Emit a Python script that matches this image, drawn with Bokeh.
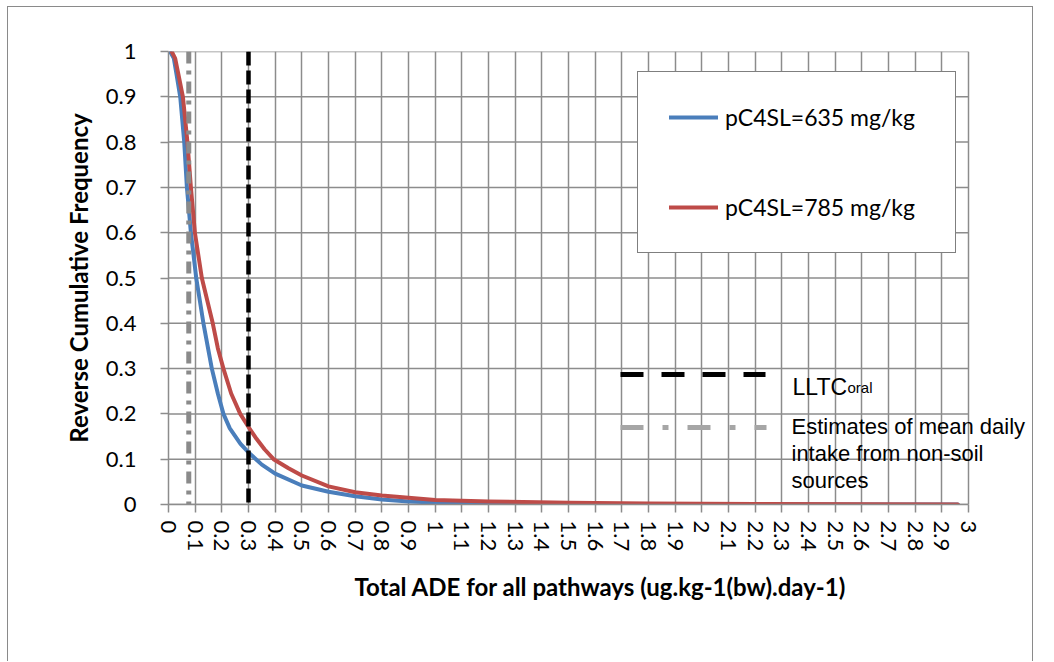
from bokeh.plotting import figure
from bokeh.models import Range1d, FixedTicker, Span, Legend, LegendItem, Label
from bokeh.embed import file_html
from bokeh.resources import INLINE

# ---------------- data ----------------
blue_x = [0.006, 0.02, 0.03, 0.044, 0.059, 0.069, 0.084, 0.104, 0.131, 0.1625, 0.185, 0.206,
          0.23, 0.27, 0.30, 0.35, 0.40, 0.50, 0.60, 0.70, 0.80, 0.90, 1.0, 1.2, 1.5, 1.8,
          2.2, 2.6, 2.96]
blue_y = [1.0, 0.985, 0.95, 0.90, 0.80, 0.70, 0.60, 0.50, 0.40, 0.30, 0.245, 0.20,
          0.168, 0.134, 0.115, 0.088, 0.068, 0.042, 0.028, 0.018, 0.011, 0.0066, 0.0044,
          0.002, 0.0012, 0.0007, 0.0003, 0.0001, 0.0]
red_x = [0.012, 0.025, 0.037, 0.054, 0.071, 0.084, 0.099, 0.125, 0.166, 0.185, 0.206, 0.235,
         0.269, 0.30, 0.33, 0.36, 0.394, 0.45, 0.50, 0.60, 0.70, 0.80, 0.90, 1.0, 1.2, 1.5,
         1.8, 2.2, 2.6, 2.96]
red_y = [1.0, 0.985, 0.95, 0.90, 0.80, 0.70, 0.60, 0.50, 0.40, 0.345, 0.30, 0.245,
         0.20, 0.171, 0.145, 0.122, 0.10, 0.08, 0.064, 0.04, 0.027, 0.020, 0.015, 0.010,
         0.0066, 0.0037, 0.002, 0.001, 0.0005, 0.0002]
series_labels = ["pC4SL=635 mg/kg", "pC4SL=785 mg/kg"]

lltc_x = 0.3          # LLTC oral
intake_x = 0.076      # mean daily intake from non-soil sources

x_ticks = [0.0, 0.1, 0.2, 0.3, 0.4, 0.5, 0.6, 0.7, 0.8, 0.9, 1.0, 1.1, 1.2, 1.3, 1.4, 1.5,
           1.6, 1.7, 1.8, 1.9, 2.0, 2.1, 2.2, 2.3, 2.4, 2.5, 2.6, 2.7, 2.8, 2.9, 3.0]
x_tick_labels = ["0", "0.1", "0.2", "0.3", "0.4", "0.5", "0.6", "0.7", "0.8", "0.9", "1",
                 "1.1", "1.2", "1.3", "1.4", "1.5", "1.6", "1.7", "1.8", "1.9", "2",
                 "2.1", "2.2", "2.3", "2.4", "2.5", "2.6", "2.7", "2.8", "2.9", "3"]
y_ticks = [0.0, 0.1, 0.2, 0.3, 0.4, 0.5, 0.6, 0.7, 0.8, 0.9, 1.0]
y_tick_labels = ["0", "0.1", "0.2", "0.3", "0.4", "0.5", "0.6", "0.7", "0.8", "0.9", "1"]

x_title = "Total ADE for all pathways (ug.kg-1(bw).day-1)"
y_title = "Reverse Cumulative Frequency"

# ---------------- layout ----------------
X0, X1, Y0, Y1 = 0.0, 3.0, 0.0, 1.0      # plotted axis extent
OX, OY = 8, 7                            # page position of the figure content
FL, FT, FH = 160, 44, 453                # frame offsets / height
PLOT_W = 800                             # pixels spanned by the axis 0..3
FW = 864                                 # frame extends to the chart border
XEND = X0 + FW / PLOT_W * (X1 - X0)


def px(xp):   # page pixel -> data x
    return X0 + (xp - OX - FL) / PLOT_W * (X1 - X0)


def py(yp):   # page pixel -> data y
    return Y0 + (OY + FT + FH - yp) / FH * (Y1 - Y0)


GRID = "#8c8c8c"
BLUE = "#4a7ebb"
RED = "#be4b48"

p = figure(frame_width=FW, frame_height=FH,
           min_border_left=FL, min_border_top=FT, min_border_right=0, min_border_bottom=157,
           x_range=Range1d(X0, XEND), y_range=Range1d(Y0, Y1),
           output_backend="svg", toolbar_location=None,
           background_fill_color="white", border_fill_color="white")
p.margin = (OY - 1, 0, 0, OX - 1)
p.styles = {"border-left": "1px solid #8a8a8a", "border-top": "1px solid #8a8a8a",
            "border-right": "1px solid #8a8a8a"}
p.outline_line_color = None

for ax, ticks, labels in ((p.xaxis[0], x_ticks, x_tick_labels), (p.yaxis[0], y_ticks, y_tick_labels)):
    ax.ticker = FixedTicker(ticks=ticks)
    ax.major_label_overrides = dict(zip(ticks, labels))
    ax.minor_tick_line_color = None
    ax.axis_line_color = GRID
    ax.axis_line_width = 1.5
    ax.major_tick_line_color = GRID
    ax.major_tick_line_width = 1.5
    ax.major_tick_in = 0
    ax.major_label_text_font = "Lato"
    ax.major_label_text_font_size = "22px"
    ax.major_label_text_color = "black"
    ax.axis_label_text_font = "Lato"
    ax.axis_label_text_font_style = "bold"
    ax.axis_label_text_font_size = "24px"
    ax.axis_label_text_color = "black"

p.xaxis.bounds = (X0, X1)
p.xaxis.major_tick_out = 8
p.xaxis.major_label_orientation = "vertical"
p.xaxis.major_label_standoff = 8
p.xaxis.axis_label = x_title
p.xaxis.axis_label_standoff = 18

p.yaxis.major_tick_out = 8
p.yaxis.major_label_standoff = 24
p.yaxis.axis_label = y_title
p.yaxis.axis_label_standoff = 10

# vertical grid at each x tick; horizontal grid drawn only across 0..3
p.xgrid.ticker = FixedTicker(ticks=x_ticks)
p.xgrid.grid_line_color = GRID
p.xgrid.grid_line_width = 1.5
p.ygrid.grid_line_color = None
p.segment(x0=[X0] * len(y_ticks), x1=[X1] * len(y_ticks), y0=y_ticks, y1=y_ticks,
          line_color=GRID, line_width=1.5, level="underlay")

r_blue = p.line(blue_x, blue_y, line_color=BLUE, line_width=4, line_join="round", line_cap="round")
r_red = p.line(red_x, red_y, line_color=RED, line_width=4, line_join="round", line_cap="round")

p.add_layout(Span(location=intake_x, dimension="height", line_color="#8a8a8a",
                  line_width=5, line_dash="12 7 4 7"))
p.add_layout(Span(location=lltc_x, dimension="height", line_color="black",
                  line_width=4.5, line_dash="14 5"))

legend = Legend(items=[LegendItem(label=series_labels[0], renderers=[r_blue]),
                       LegendItem(label=series_labels[1], renderers=[r_red])],
                location=(469, 251), padding=31, spacing=62,
                glyph_width=49, glyph_height=22, label_height=22, label_standoff=7,
                label_width=199,
                label_text_font="Lato", label_text_font_size="23px", label_text_color="black",
                border_line_color="black", border_line_width=1.5,
                background_fill_color="white", background_fill_alpha=1.0)
p.add_layout(legend)

# ---- manual key for the vertical reference lines ----
p.line([px(620), px(765)], [py(374), py(374)], line_color="black", line_width=5,
       line_dash="23 18")
p.line([px(620), px(766)], [py(427), py(427)], line_color="#a6a6a6", line_width=5,
       line_dash="23 19 6 19")

ann_font = "Liberation Sans"
p.add_layout(Label(x=px(792), y=py(386), text="LLTC", text_font=ann_font,
                   text_font_size="23px", text_baseline="alphabetic", text_color="black"))
p.add_layout(Label(x=px(847), y=py(387), text="oral", text_font=ann_font,
                   text_font_size="15px", text_baseline="alphabetic", text_color="black"))
for txt, base in (("Estimates of mean daily", 426), ("intake from non-soil", 453), ("sources", 480)):
    p.add_layout(Label(x=px(791), y=py(base), text=txt, text_font=ann_font,
                       text_font_size="22px", text_baseline="alphabetic", text_color="black"))

open("out.html", "w").write(file_html(p, INLINE))
